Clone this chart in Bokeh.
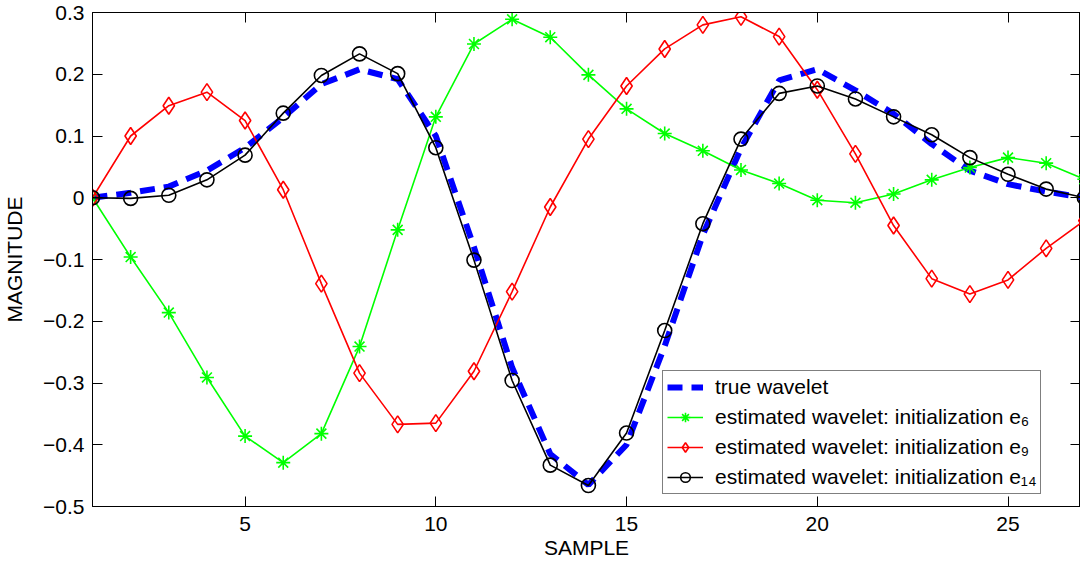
from bokeh.plotting import figure
from bokeh.models import (Range1d, LinearAxis, FixedTicker, CustomJSTickFormatter,
                          Legend, LegendItem, ColumnDataSource)
from bokeh.embed import file_html
from bokeh.resources import INLINE

# ---- data ----
samples = list(range(1, 28))
true_wavelet = [0, 0.008, 0.018, 0.044, 0.081, 0.13, 0.184, 0.208, 0.192, 0.10,
                -0.08, -0.275, -0.415, -0.465, -0.40, -0.24, -0.06, 0.08, 0.19,
                0.208, 0.174, 0.136, 0.087, 0.044, 0.022, 0.01, 0.0]
est_e6 = [0, -0.096, -0.186, -0.291, -0.386, -0.429, -0.382, -0.241, -0.052, 0.131,
          0.249, 0.289, 0.26, 0.199, 0.144, 0.104, 0.076, 0.045, 0.023, -0.004,
          -0.008, 0.006, 0.029, 0.049, 0.065, 0.056, 0.03]
est_e9 = [0, 0.1, 0.149, 0.171, 0.125, 0.013, -0.139, -0.284, -0.367, -0.365,
          -0.281, -0.152, -0.015, 0.095, 0.181, 0.241, 0.28, 0.293, 0.261, 0.175,
          0.071, -0.045, -0.131, -0.156, -0.133, -0.082, -0.037]
est_e14 = [0, -0.001, 0.004, 0.029, 0.069, 0.137, 0.198, 0.233, 0.201, 0.081,
           -0.101, -0.296, -0.433, -0.466, -0.381, -0.215, -0.042, 0.095, 0.169,
           0.181, 0.16, 0.131, 0.102, 0.065, 0.038, 0.014, 0.0]
x_ticks = [5, 10, 15, 20, 25]
y_ticks = [-0.5, -0.4, -0.3, -0.2, -0.1, 0, 0.1, 0.2, 0.3]
labels = ["true wavelet",
          "estimated wavelet: initialization e\u2086",
          "estimated wavelet: initialization e\u2089",
          "estimated wavelet: initialization e\u2081\u2084"]

FONT = "Liberation Sans"

src = ColumnDataSource(dict(x=samples, t=true_wavelet, e6=est_e6, e9=est_e9, e14=est_e14))

p = figure(width=1080, height=566, output_backend="svg", toolbar_location=None,
           x_range=Range1d(1, 26.9), y_range=Range1d(-0.5, 0.3),
           min_border_left=92, min_border_right=0, min_border_top=12,
           min_border_bottom=60, x_axis_location=None, y_axis_location=None)
p.grid.visible = False
p.outline_line_color = "black"
p.outline_line_width = 1
p.background_fill_color = "white"
p.border_fill_color = "white"

yfmt = CustomJSTickFormatter(code="""
const v = Math.round(tick*10)/10;
if (v === 0) return "0";
return (v < 0 ? "\\u2212" : "") + Math.abs(v).toFixed(1);
""")

def style_axis(ax, show_labels):
    ax.axis_line_color = "black"
    ax.major_tick_line_color = "black"
    ax.major_tick_in = 10
    ax.major_tick_out = 0
    ax.minor_tick_line_color = None
    ax.major_label_text_font = FONT
    ax.axis_label_text_font = FONT
    ax.axis_label_text_font_style = "normal"
    ax.axis_label_text_color = "black"
    ax.major_label_text_color = "black"
    if show_labels:
        ax.major_label_text_font_size = "21px"
        ax.axis_label_text_font_size = "21px"
    else:
        ax.major_label_text_font_size = "0px"
        ax.major_label_standoff = 0

xb = LinearAxis(ticker=FixedTicker(ticks=x_ticks), axis_label="SAMPLE")
style_axis(xb, True)
xb.major_label_standoff = 10
xb.axis_label_standoff = 2
p.add_layout(xb, "below")

xt = LinearAxis(ticker=FixedTicker(ticks=x_ticks))
style_axis(xt, False)
p.add_layout(xt, "above")

yl = LinearAxis(ticker=FixedTicker(ticks=y_ticks), formatter=yfmt, axis_label="MAGNITUDE")
style_axis(yl, True)
yl.major_label_standoff = 8
yl.axis_label_standoff = 14
p.add_layout(yl, "left")

yr = LinearAxis(ticker=FixedTicker(ticks=y_ticks))
style_axis(yr, False)
p.add_layout(yr, "right")

# ---- series ----
r_true = p.line("x", "t", source=src, line_color="#0000ff", line_width=6, line_dash="15 9")

l6 = p.line("x", "e6", source=src, line_color="#00ff00", line_width=1.6)
m6 = p.scatter("x", "e6", source=src, marker="asterisk", size=14, line_color="#00ff00",
               line_width=1.6)

l9 = p.line("x", "e9", source=src, line_color="#ff0000", line_width=1.6)
m9 = p.scatter("x", "e9", source=src, marker="diamond", size=17, line_color="#ff0000",
               fill_color=None, line_width=1.6)

l14 = p.line("x", "e14", source=src, line_color="black", line_width=1.6)
m14 = p.scatter("x", "e14", source=src, marker="circle", size=14, line_color="black",
                fill_color=None, line_width=1.6)

legend = Legend(items=[
    LegendItem(label=labels[0], renderers=[r_true]),
    LegendItem(label=labels[1], renderers=[l6, m6]),
    LegendItem(label=labels[2], renderers=[l9, m9]),
    LegendItem(label=labels[3], renderers=[l14, m14]),
], location=(570, 12))
legend.label_text_font = FONT
legend.label_text_font_size = "21px"
legend.label_text_color = "black"
legend.glyph_width = 36
legend.glyph_height = 24
legend.label_height = 24
legend.label_standoff = 12
legend.spacing = 6
legend.padding = 4
legend.margin = 0
legend.border_line_color = "black"
legend.border_line_width = 1
legend.background_fill_alpha = 1
p.add_layout(legend, "center")

open("out.html", "w").write(file_html(p, INLINE))
